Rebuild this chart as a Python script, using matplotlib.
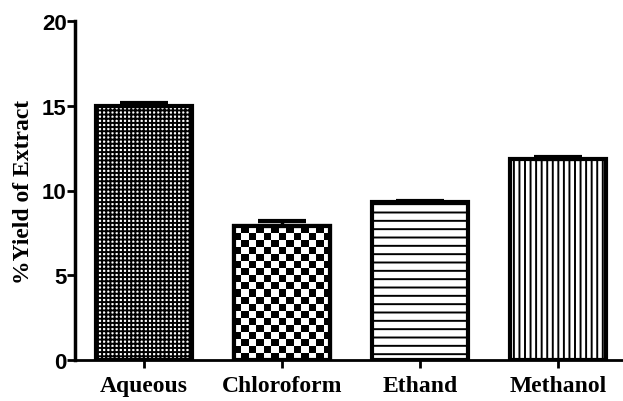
import matplotlib.pyplot as plt
import numpy as np

plt.rcParams['hatch.linewidth'] = 1.4

solvents = ["Aqueous", "Chloroform", "Ethand", "Methanol"]
yields = [15.0, 7.9, 9.35, 11.85]
errors = [0.15, 0.3, 0.05, 0.15]
hatches = ["++++", None, "--", "|||"]

fig = plt.figure(figsize=(6.23, 4.02), dpi=100)
ax = fig.add_axes([75/623, 41/402, 548/623, 339/402])

x = np.arange(len(solvents))
bars = ax.bar(x, yields, width=0.7, color="white", edgecolor="black",
              linewidth=3, zorder=2)
for b, h in zip(bars, hatches):
    if h:
        b.set_hatch(h)

# checkerboard fill for the chloroform bar, clipped to the bar
b = bars[1]
checker = np.indices((19, 13)).sum(axis=0) % 2
im = ax.imshow(checker, cmap="gray_r", interpolation="nearest", aspect="auto",
               extent=[b.get_x(), b.get_x() + b.get_width(), 0, b.get_height()],
               zorder=2.5)
im.set_clip_path(b)
ax.bar(x[1], yields[1], width=0.7, color="none", edgecolor="black",
       linewidth=3, zorder=2.6)

ax.errorbar(x, yields, yerr=[[0]*4, errors], fmt="none", ecolor="black",
            elinewidth=2.5, capsize=17, capthick=3, zorder=3)

ax.set_xlim(-0.5, 3.47)
ax.set_ylim(0, 20)
ax.set_yticks([0, 5, 10, 15, 20])
ax.set_xticks(x)
ax.set_xticklabels(solvents, fontfamily="Liberation Serif", fontweight="bold",
                   fontsize=17)
for lab in ax.get_yticklabels():
    lab.set_fontfamily("Liberation Sans")
    lab.set_fontweight("bold")
    lab.set_fontsize(16)
ax.set_ylabel("%Yield of Extract", fontfamily="Liberation Serif",
              fontweight="bold", fontsize=17, labelpad=6)

for s in ["top", "right"]:
    ax.spines[s].set_visible(False)
ax.spines["left"].set_linewidth(2.5)
ax.spines["bottom"].set_linewidth(2)
ax.tick_params(axis="both", width=2, length=6, direction="out", pad=0)
ax.tick_params(axis="x", pad=5)

fig.savefig("out.png", dpi=100)
